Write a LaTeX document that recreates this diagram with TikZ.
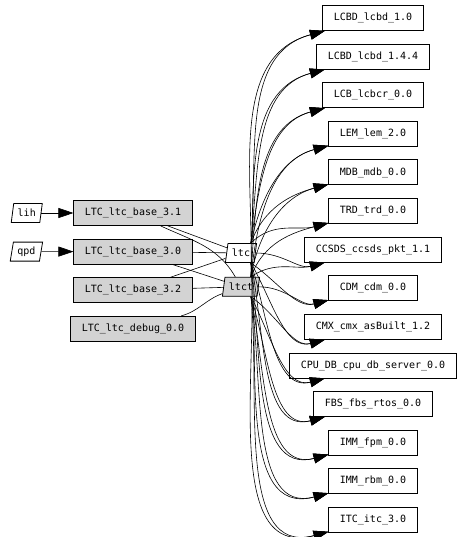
\documentclass[tikz,border=0pt]{standalone}
\usepackage{fontspec}
\setmonofont{DejaVu Sans Mono}
\usepackage{tikz}
\usetikzlibrary{shapes.geometric, arrows.meta, positioning}
\definecolor{boxgray}{HTML}{D3D3D3}
\tikzset{
  pkg/.style={
    rectangle, draw, line width=0.8pt,
    minimum height=25pt, inner xsep=11pt,
    font=\ttfamily\fontsize{10}{12}\selectfont,
  },
  pkggray/.style={pkg, fill=boxgray},
  alias/.style={
    trapezium, trapezium left angle=72, trapezium right angle=108,
    trapezium stretches=true,
    draw, line width=0.8pt, fill=white,
    minimum height=19pt, inner xsep=4pt, inner ysep=0pt,
    font=\ttfamily\fontsize{10}{12}\selectfont,
  },
  arrow/.style={-{Triangle[length=15pt, width=10pt]}, line width=0.6pt},
  link/.style={line width=0.6pt},
}

\begin{document}
\begin{tikzpicture}[x=1pt, y=-1pt, node distance=12.8pt]
  \useasboundingbox (0,0) rectangle (469,537);

  % left side
  \node[pkggray] (base31) at (133,213) {LTC\_ltc\_base\_3.1};
  \node[pkggray, below=of base31] (base30) {LTC\_ltc\_base\_3.0};
  \node[pkggray, below=of base30] (base32) {LTC\_ltc\_base\_3.2};
  \node[pkggray, below=of base32] (debug) {LTC\_ltc\_debug\_0.0};
  \node[alias, left=32pt of base31] (lih) {lih};
  \node[alias, left=32pt of base30] (qpd) {qpd};

  % middle
  \node[alias] (ltc) at (241,253) {ltc};
  \node[alias, fill=boxgray, below=14pt of ltc] (ltct) {ltct};

  % right side
  \node[pkg] (lcbdA) at (373,18) {LCBD\_lcbd\_1.0};
  \node[pkg, below=of lcbdA] (lcbdB) {LCBD\_lcbd\_1.4.4};
  \node[pkg, below=of lcbdB] (lcbcr) {LCB\_lcbcr\_0.0};
  \node[pkg, below=of lcbcr] (lem) {LEM\_lem\_2.0};
  \node[pkg, below=of lem] (mdb) {MDB\_mdb\_0.0};
  \node[pkg, below=of mdb] (trd) {TRD\_trd\_0.0};
  \node[pkg, below=of trd] (ccsds) {CCSDS\_ccsds\_pkt\_1.1};
  \node[pkg, below=of ccsds] (cdm) {CDM\_cdm\_0.0};
  \node[pkg, below=of cdm] (cmx) {CMX\_cmx\_asBuilt\_1.2};
  \node[pkg, below=of cmx] (cpudb) {CPU\_DB\_cpu\_db\_server\_0.0};
  \node[pkg, below=of cpudb] (fbs) {FBS\_fbs\_rtos\_0.0};
  \node[pkg, below=of fbs] (fpm) {IMM\_fpm\_0.0};
  \node[pkg, below=of fpm] (rbm) {IMM\_rbm\_0.0};
  \node[pkg, below=of rbm] (itc) {ITC\_itc\_3.0};

  \draw[arrow] (lih) -- (base31);
  \draw[arrow] (qpd) -- (base30);

  \draw[link] (base31) -- (ltc);
  \draw[link] (base31) to[out=-25, in=120] (ltct);
  \draw[link] (base30) -- (ltc);
  \draw[link] (base30) -- (ltct);
  \draw[link] (base32) -- (ltc);
  \draw[link] (base32) -- (ltct);
  \draw[link] (debug) to[out=15, in=200] (ltct);

  \foreach \dst/\pa/\a/\pb/\b in {
      lcbdA/north east/85/north east/88, lcbdB/north east/84/north east/87,
      lcbcr/north east/82/north east/86, lem/north east/78/north east/84,
      mdb/north east/70/north east/80, trd/north east/45/north east/70,
      ccsds/east/0/north east/35, cdm/south east/-35/east/0,
      cmx/south east/-60/south east/-35, cpudb/south east/-72/south east/-62,
      fbs/south east/-78/south east/-72, fpm/south east/-82/south east/-78,
      rbm/south east/-84/south east/-81, itc/south east/-86/south east/-84}
  {
    \draw[arrow] (ltc.\pa) to[out=\a, in=195] (\dst);
    \draw[arrow] (ltct.\pb) to[out=\b, in=195] (\dst);
  }
\end{tikzpicture}
\end{document}
